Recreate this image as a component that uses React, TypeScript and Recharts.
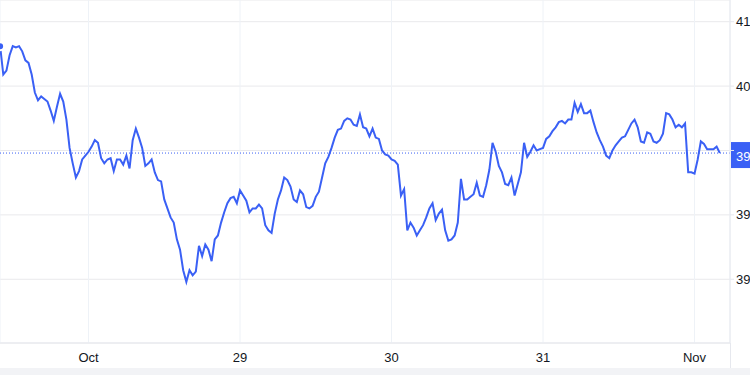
import React from 'react';
import { LineChart, Line, XAxis, YAxis, CartesianGrid, ReferenceLine } from 'recharts';

// Time in hours relative to Oct 28 00:00, one value every 30 minutes
const startHour = -14;
const stepHours = 0.5;

const prices = [
  40.81, 40.59, 40.62, 40.74, 40.81, 40.80, 40.81, 40.77, 40.70, 40.68,
  40.59, 40.45, 40.39, 40.42, 40.40, 40.38, 40.31, 40.23, 40.34, 40.44,
  40.38, 40.24, 40.02, 39.90, 39.79, 39.84, 39.93, 39.96, 39.99, 40.03,
  40.08, 40.06, 39.94, 39.90, 39.93, 39.94, 39.84, 39.93, 39.93, 39.89,
  39.96, 39.86, 40.08, 40.17, 40.10, 40.02, 39.88, 39.90, 39.93, 39.83,
  39.77, 39.76, 39.62, 39.55, 39.48, 39.44, 39.31, 39.23, 39.07, 38.98,
  39.07, 39.03, 39.06, 39.26, 39.18, 39.27, 39.23, 39.14, 39.31, 39.34,
  39.44, 39.52, 39.59, 39.63, 39.64, 39.59, 39.69, 39.65, 39.61, 39.52,
  39.55, 39.55, 39.58, 39.55, 39.42, 39.38, 39.36, 39.51, 39.62, 39.69,
  39.79, 39.77, 39.72, 39.62, 39.60, 39.69, 39.66, 39.56, 39.55, 39.57,
  39.64, 39.68, 39.79, 39.90, 39.95, 40.02, 40.10, 40.16, 40.17, 40.23,
  40.25, 40.24, 40.20, 40.19, 40.28, 40.18, 40.17, 40.11, 40.17, 40.10,
  40.09, 40.00, 39.97, 39.96, 39.93, 39.92, 39.89, 39.65, 39.70, 39.38,
  39.44, 39.40, 39.34, 39.38, 39.42, 39.48, 39.55, 39.59, 39.46, 39.51,
  39.54, 39.38, 39.30, 39.31, 39.34, 39.44, 39.78, 39.62, 39.62, 39.64,
  39.66, 39.75, 39.65, 39.64, 39.73, 39.85, 40.06, 39.99, 39.88, 39.83,
  39.74, 39.73, 39.79, 39.65, 39.74, 39.83, 40.06, 39.95, 39.99, 40.04,
  40.00, 40.01, 40.02, 40.09, 40.11, 40.15, 40.18, 40.22, 40.23, 40.21,
  40.24, 40.24, 40.37, 40.30, 40.36, 40.29, 40.29, 40.31, 40.22, 40.14,
  40.08, 40.03, 39.96, 39.94, 40.00, 40.04, 40.07, 40.10, 40.11, 40.16,
  40.21, 40.24, 40.18, 40.07, 40.06, 40.14, 40.13, 40.07, 40.06, 40.08,
  40.13, 40.29, 40.28, 40.24, 40.18, 40.20, 40.18, 40.21, 39.83, 39.83,
  39.82, 39.93, 40.07, 40.05, 40.01, 40.01, 40.01, 40.03, 39.98,
];

const lastPrice = 39.98;

const xTicks = [0, 24, 48, 72, 96];
const xTickLabels = ['Oct', '29', '30', '31', 'Nov'];
const yTicks = [39.0, 39.5, 40.0, 40.5, 41.0];

const data = prices.map((p, i) => ({ t: startHour + i * stepHours, price: p }));

const BLUE = '#3a60f5';
const TEXT = '#131722';
const FONT = '"Liberation Sans", Arial, Helvetica, sans-serif';

const XTick = (props: any) => {
  const { x, y, payload } = props;
  const idx = xTicks.indexOf(payload.value);
  return (
    <text x={x} y={y} textAnchor="middle" dominantBaseline="central" fill={TEXT} fontSize={13} fontFamily={FONT}>
      {idx >= 0 ? xTickLabels[idx] : ''}
    </text>
  );
};

const YTick = (props: any) => {
  const { x, y, payload } = props;
  if (Math.abs(payload.value - lastPrice) < 0.1) return <g />;
  return (
    <text x={x} y={y} textAnchor="start" dominantBaseline="central" fill={TEXT} fontSize={13} fontFamily={FONT}>
      {Number(payload.value).toFixed(2)}
    </text>
  );
};

const PriceLabel = (props: any) => {
  const vb = props.viewBox || {};
  const x = (vb.x || 0) + (vb.width || 0) + 1;
  const y = vb.y || 0;
  return (
    <g>
      <rect x={x} y={y - 11} width={40} height={26} fill={BLUE} />
      <text x={x + 5} y={y + 3} textAnchor="start" dominantBaseline="central" fill="#ffffff" fontSize={13} fontFamily={FONT}>
        {lastPrice.toFixed(2)}
      </text>
    </g>
  );
};

export default function App() {
  return (
    <div style={{ position: 'absolute', left: 0, top: 0, width: 750, height: 375, background: '#ffffff', overflow: 'hidden' }}>
      <LineChart width={750} height={375} data={data} margin={{ top: 0, right: 0, bottom: 0, left: 0 }}>
        <CartesianGrid vertical={false} stroke="#e9e9ec" strokeWidth={1} />
        <CartesianGrid horizontal={false} stroke="#eef2f7" strokeWidth={1} />
        <XAxis
          dataKey="t"
          type="number"
          domain={[-14.02, 101.62]}
          ticks={xTicks}
          tick={<XTick />}
          tickLine={false}
          tickSize={0}
          tickMargin={14}
          axisLine={{ stroke: '#e6e8ee' }}
          height={32}
          allowDataOverflow
          interval={0}
        />
        <YAxis
          orientation="right"
          type="number"
          domain={[38.505, 41.1685]}
          ticks={yTicks}
          tick={<YTick />}
          tickLine={{ stroke: '#e6e8ee' }}
          tickSize={4}
          tickMargin={2}
          axisLine={{ stroke: '#e6e8ee' }}
          width={20}
          allowDataOverflow
          interval={0}
        />
        <ReferenceLine y={lastPrice} stroke={BLUE} strokeWidth={1} strokeDasharray="1 2" label={<PriceLabel />} />
        <Line
          type="linear"
          dataKey="price"
          stroke={BLUE}
          strokeWidth={2}
          dot={false}
          isAnimationActive={false}
        />
      </LineChart>
      <div style={{ position: 'absolute', left: 730, top: 343, width: 1, height: 25, background: '#e6e8ee' }} />
      <div style={{ position: 'absolute', left: 0, top: 368, width: 750, height: 7, background: '#f2f3f6' }} />
    </div>
  );
}
